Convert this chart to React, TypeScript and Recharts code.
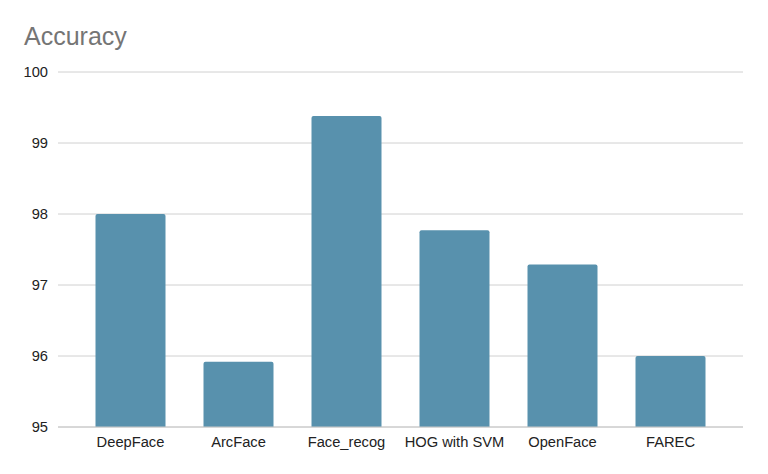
import React from "react";
import { BarChart, Bar, XAxis, YAxis, CartesianGrid } from "recharts";

const categories = ["DeepFace", "ArcFace", "Face_recog", "HOG with SVM", "OpenFace", "FAREC"];
const accuracy = [98.0, 95.92, 99.38, 97.77, 97.29, 96.0];
const yTicks = [95, 96, 97, 98, 99, 100];

const data = categories.map((name, i) => ({ name, accuracy: accuracy[i] }));

const FONT = "'Liberation Sans', Arial, sans-serif";

export default function App() {
  return (
    <div style={{ position: "absolute", left: 0, top: 0, width: 768, height: 474, background: "#fff" }}>
      <div
        style={{
          position: "absolute",
          left: 24,
          top: 23.5,
          fontFamily: FONT,
          fontSize: 25,
          lineHeight: "25px",
          color: "#757575",
          whiteSpace: "nowrap",
        }}
      >
        Accuracy
      </div>
      <BarChart
        width={768}
        height={474}
        data={data}
        margin={{ top: 72, right: 25, bottom: 17, left: 0 }}
      >
        <CartesianGrid vertical={false} stroke="#d0d0d0" strokeWidth={1} />
        <XAxis
          dataKey="name"
          height={30}
          padding={{ left: 18.5, right: 18.5 }}
          tickLine={false}
          tickSize={0}
          tickMargin={10}
          axisLine={{ stroke: "#c8c8c8" }}
          interval={0}
          tick={{ fontFamily: FONT, fontSize: 14.7, fill: "#222" }}
        />
        <YAxis
          width={58}
          domain={[95, 100]}
          ticks={yTicks}
          type="number"
          axisLine={false}
          tickLine={false}
          tickSize={0}
          tickMargin={10}
          tick={{ fontFamily: FONT, fontSize: 14.7, fill: "#222" }}
        />
        <Bar
          dataKey="accuracy"
          fill="#5891ad"
          barSize={70}
          radius={[2, 2, 0, 0]}
          isAnimationActive={false}
        />
      </BarChart>
    </div>
  );
}
